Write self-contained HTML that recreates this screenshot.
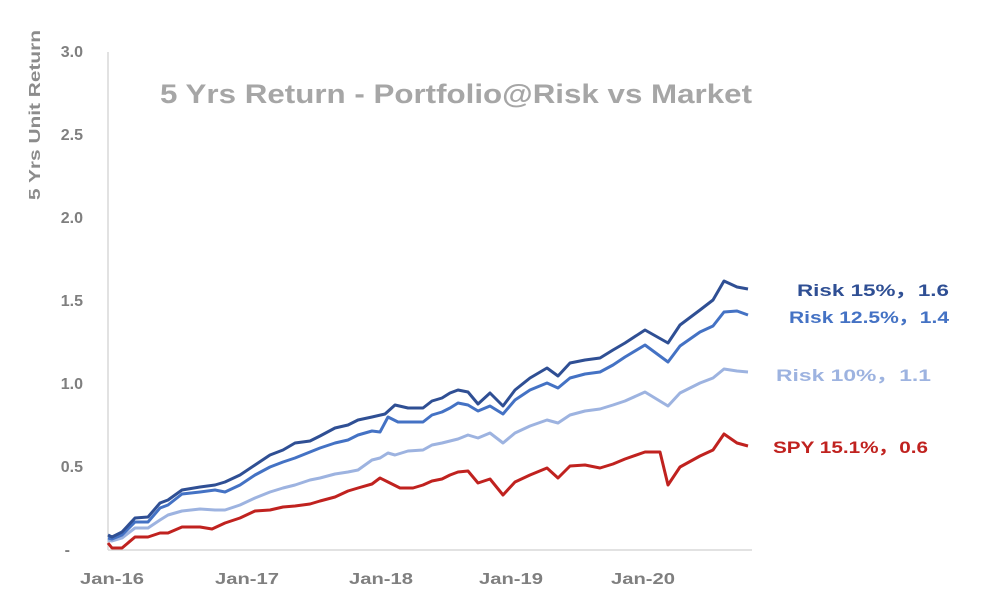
<!DOCTYPE html>
<html><head><meta charset="utf-8"><style>
html,body{margin:0;padding:0;background:#fff;}
svg{display:block;font-family:"Liberation Sans","DejaVu Sans",sans-serif;}
</style></head><body>
<svg width="986" height="616" viewBox="0 0 986 616" xmlns="http://www.w3.org/2000/svg">
<rect width="986" height="616" fill="#fff"/>
<line x1="108" y1="52" x2="108" y2="550" stroke="#d9d9d9" stroke-width="1.5"/>
<line x1="108" y1="550" x2="752" y2="550" stroke="#d9d9d9" stroke-width="1.5"/>
<g fill="#7f7f7f" font-size="16" font-weight="bold" text-anchor="end">
<text x="83" y="57">3.0</text>
<text x="83" y="140">2.5</text>
<text x="83" y="223">2.0</text>
<text x="83" y="306">1.5</text>
<text x="83" y="389">1.0</text>
<text x="83" y="472">0.5</text>
<text x="70" y="555">-</text>
</g>
<text transform="translate(40,200) rotate(-90)" fill="#8c8c8c" font-size="16" font-weight="bold" textLength="170" lengthAdjust="spacingAndGlyphs">5 Yrs Unit Return</text>
<g fill="#7f7f7f" font-size="16" font-weight="bold">
<text x="80" y="584" textLength="64" lengthAdjust="spacingAndGlyphs">Jan-16</text>
<text x="215" y="584" textLength="64" lengthAdjust="spacingAndGlyphs">Jan-17</text>
<text x="349" y="584" textLength="64" lengthAdjust="spacingAndGlyphs">Jan-18</text>
<text x="479" y="584" textLength="64" lengthAdjust="spacingAndGlyphs">Jan-19</text>
<text x="611" y="584" textLength="64" lengthAdjust="spacingAndGlyphs">Jan-20</text>
</g>
<text x="160" y="103" fill="#a6a6a6" font-size="27" font-weight="bold" textLength="592" lengthAdjust="spacingAndGlyphs">5 Yrs Return - Portfolio@Risk vs Market</text>
<g fill="none" stroke-width="3" stroke-linejoin="round">
<polyline stroke="#c0221f" points="108,543 112,548 122,548 135,537 148,537 160,533 168,533 182,527 200,527 212,529 225,523 240,518 255,511 270,510 283,507 295,506 310,504 320,501 335,497 348,491 358,488 372,484 380,478 388,482 400,488 413,488 423,485 432,481 442,479 450,475 458,472 468,471 478,483 490,479 503,495 515,482 530,475 547,468 558,478 570,466 585,465 600,468 613,464 625,459 645,452 660,452 668,485 680,467 700,456 713,450 724,434 737,443 748,446"/>
<polyline stroke="#9db3e0" points="108,540 112,541 122,538 135,528 148,528 160,520 168,515 182,511 200,509 215,510 225,510 240,505 255,498 270,492 283,488 295,485 310,480 320,478 335,474 348,472 358,470 372,460 380,458 388,453 395,455 408,451 423,450 432,445 442,443 450,441 458,439 468,435 478,438 490,433 503,443 515,433 530,426 547,420 558,423 570,415 585,411 600,409 613,405 625,401 645,392 668,406 680,393 700,383 713,378 724,369 737,371 748,372"/>
<polyline stroke="#4472c4" points="108,538 112,539 122,535 135,522 148,522 160,508 168,505 182,494 200,492 215,490 225,492 240,485 255,475 270,467 283,462 295,458 310,452 320,448 335,443 348,440 358,435 372,431 380,432 388,417 398,422 413,422 423,422 432,415 442,412 450,408 458,403 468,405 478,411 490,406 503,414 515,400 530,390 547,383 558,388 570,378 585,374 600,372 613,365 625,357 645,345 668,362 680,346 700,332 713,326 724,312 737,311 748,315"/>
<polyline stroke="#2f4f94" points="108,535 112,537 122,532 135,518 148,517 160,503 168,500 182,490 200,487 215,485 225,482 240,475 255,465 270,455 283,450 295,443 310,441 320,436 335,428 348,425 358,420 372,417 385,414 395,405 408,408 423,408 432,401 442,398 450,393 458,390 468,392 478,404 490,393 503,406 515,390 530,378 547,368 558,376 570,363 585,360 600,358 613,350 625,343 645,330 668,343 680,325 700,310 713,300 724,281 737,287 748,289"/>
</g>
<g font-size="17" font-weight="bold" lengthAdjust="spacingAndGlyphs">
<text x="797" y="296" fill="#2f4f94" textLength="152" lengthAdjust="spacingAndGlyphs">Risk 15%，1.6</text>
<text x="789" y="323" fill="#4472c4" textLength="160" lengthAdjust="spacingAndGlyphs">Risk 12.5%，1.4</text>
<text x="776" y="381" fill="#9db3e0" textLength="155" lengthAdjust="spacingAndGlyphs">Risk 10%，1.1</text>
<text x="773" y="453" fill="#c0221f" textLength="155" lengthAdjust="spacingAndGlyphs">SPY 15.1%，0.6</text>
</g>
</svg>
</body></html>
